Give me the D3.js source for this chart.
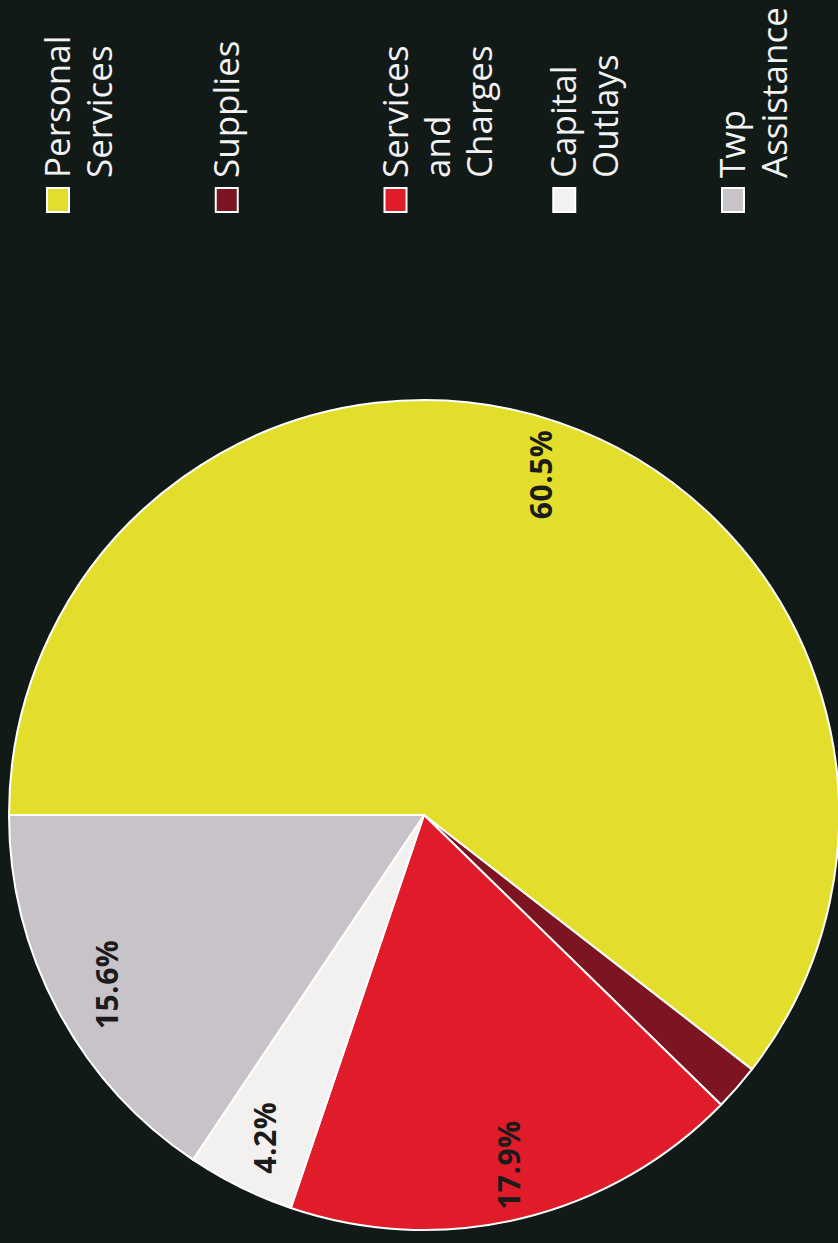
<!DOCTYPE html>
<html lang="en">
<head>
	<meta charset="UTF-8">
	<script src="https://d3js.org/d3.v7.min.js"></script>
	<title>Expenditures Pie</title>
	<style>
		body { margin: 0; background: #121a17; }
		.legend-text { fill: #f2f2f2; font-family: "Open Sans", sans-serif; font-size: 35px; }
		.pct { fill: #1b1b1b; font-family: "Open Sans", sans-serif; font-size: 30px; font-weight: bold; letter-spacing: 0.5px; }
	</style>
</head>
<body>
<script>
	// chart data
	const categories = ["Personal Services", "Supplies", "Services and Charges", "Capital Outlays", "Twp Assistance"];
	const values = [60.5, 1.8, 17.9, 4.2, 15.6];
	const pctLabels = ["60.5%", "", "17.9%", "4.2%", "15.6%"];
	const legendLines = [["Personal", "Services"], ["Supplies"], ["Services", "and", "Charges"], ["Capital", "Outlays"], ["Twp", "Assistance"]];
	const colors = ["#e3de2b", "#7d1422", "#e01c2b", "#f3f0f0", "#c8c3c8"];

	const W = 838, H = 1243;
	const svg = d3.select("body").append("svg")
		.attr("width", W)
		.attr("height", H);

	svg.append("rect").attr("width", W).attr("height", H).attr("fill", "#121a17");

	// the whole chart is turned a quarter turn counter-clockwise
	const g = svg.append("g")
		.attr("transform", "translate(0," + H + ") rotate(-90)");

	const color = d3.scaleOrdinal().domain(categories).range(colors);
	const radius = 415;

	const pie = d3.pie().sort(null).value(function (d) { return d.value; });
	const arc = d3.arc().innerRadius(0).outerRadius(radius);
	const labelArc = d3.arc().innerRadius(360).outerRadius(360);

	const data = categories.map(function (c, i) {
		return { name: c, value: values[i], label: pctLabels[i] };
	});

	const pieG = g.append("g").attr("transform", "translate(428,424)");

	pieG.selectAll(".slice")
		.data(pie(data))
		.enter()
		.append("path")
		.attr("class", "slice")
		.attr("d", arc)
		.attr("fill", function (d) { return color(d.data.name); })
		.attr("stroke", "#ffffff")
		.attr("stroke-width", 2)
		.attr("stroke-linejoin", "round");

	pieG.selectAll(".pct")
		.data(pie(data).filter(function (d) { return d.data.label; }))
		.enter()
		.append("text")
		.attr("class", "pct")
		.attr("transform", function (d) { return "translate(" + labelArc.centroid(d) + ")"; })
		.attr("text-anchor", "middle")
		.attr("dominant-baseline", "central")
		.text(function (d) { return d.data.label; });

	// legend
	const ly = d3.scalePoint().domain(categories).range([58, 733]);
	const legend = g.append("g");

	const item = legend.selectAll(".item")
		.data(categories)
		.enter()
		.append("g")
		.attr("class", "item");

	item.append("rect")
		.attr("x", 1031)
		.attr("y", function (d) { return ly(d) - 11; })
		.attr("width", 24)
		.attr("height", 22)
		.attr("fill", function (d) { return color(d); })
		.attr("stroke", "#ffffff")
		.attr("stroke-width", 2);

	item.each(function (d, i) {
		const t = d3.select(this).append("text")
			.attr("class", "legend-text");
		legendLines[i].forEach(function (line, k) {
			t.append("tspan")
				.attr("x", 1065)
				.attr("y", ly(d) + 12 + k * 42)
				.text(line);
		});
	});
</script>
</body>
</html>
